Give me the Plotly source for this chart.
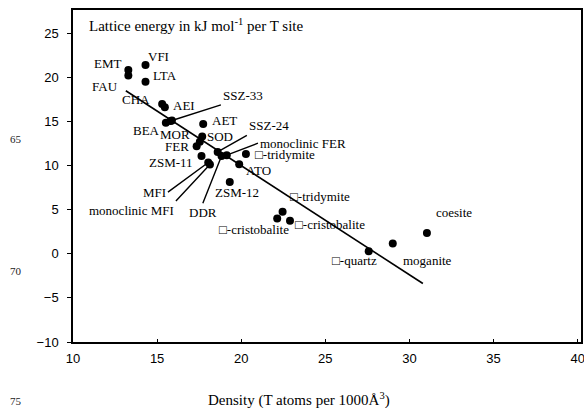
import plotly.graph_objects as go

# ---- data ----
labels = ["EMT", "FAU", "VFI", "LTA", "CHA", "AEI", "BEA", "MOR", "SSZ-33", "AET",
          "SOD", "", "FER", "ZSM-11", "MFI", "monoclinic MFI", "SSZ-24", "DDR",
          "monoclinic FER", "□-tridymite", "ATO", "ZSM-12", "□-tridymite ",
          "□-cristobalite", "□-cristobalite ", "□-quartz", "moganite", "coesite"]
density = [13.29, 13.29, 14.31, 14.31, 15.30, 15.46, 15.52, 15.80, 15.88, 17.74,
           17.68, 17.54, 17.35, 17.64, 18.04, 18.14, 18.60, 18.83,
           19.14, 20.28, 19.88, 19.32, 22.46,
           22.14, 22.90, 27.58, 29.01, 31.04]
energy = [20.84, 20.22, 21.41, 19.51, 16.98, 16.61, 14.86, 15.06, 15.12, 14.71,
          13.31, 12.70, 12.21, 11.08, 10.36, 10.14, 11.55, 11.10,
          11.19, 11.31, 10.17, 8.15, 4.76,
          4.01, 3.74, 0.30, 1.17, 2.37]
fit_x = [13.14, 30.80]
fit_y = [18.49, -3.37]
x_ticks = [10, 15, 20, 25, 30, 35, 40]
y_ticks = [-10, -5, 0, 5, 10, 15, 20, 25]
line_numbers = ["65", "70", "75"]

# ---- label placement (style, pixels) ----
plain_offsets = {
    "EMT": (-20.5, -6.7), "FAU": (-23.2, 10.5), "VFI": (13.3, -8.3), "LTA": (19, -6.7),
    "CHA": (-26.5, -4.7), "AEI": (19, -2.3), "BEA": (-19.7, 8), "MOR": (4.3, 13.6),
    "AET": (21.7, -3.3), "SOD": (17.4, 0.4), "FER": (-19.7, 0.7), "ZSM-11": (-30.7, 6.3),
    "□-tridymite": (39, 0.3), "ATO": (19.6, 6.7), "ZSM-12": (6.9, 11),
    "□-tridymite ": (37.3, -15), "□-cristobalite": (-22.8, 11),
    "□-cristobalite ": (40.5, 3.6), "□-quartz": (-14.5, 9), "moganite": (34.8, 16.7),
    "coesite": (27.5, -20),
}
arrow_labels = {
    "SSZ-33": (49, -15.6, "left", "bottom"),
    "SSZ-24": (29.2, -16.7, "left", "bottom"),
    "monoclinic FER": (31.2, -12, "left", "middle"),
    "MFI": (-40.3, 29.7, "right", "middle"),
    "monoclinic MFI": (-34, 36.7, "right", "top"),
    "DDR": (-18.7, 47.3, "center", "top"),
}

SERIF = "Liberation Serif"
SANS = "Liberation Sans"

fig = go.Figure()
fig.add_trace(go.Scatter(x=fit_x, y=fit_y, mode="lines",
                         line=dict(color="black", width=1.6), hoverinfo="skip"))
fig.add_trace(go.Scatter(x=density, y=energy, mode="markers",
                         marker=dict(color="black", size=8), text=labels))

annotations = []
for lab, xv, yv in zip(labels, density, energy):
    if lab in plain_offsets:
        dx, dy = plain_offsets[lab]
        annotations.append(dict(x=xv, y=yv, xref="x", yref="y", text=lab.strip(),
                                showarrow=False, xshift=dx, yshift=-dy,
                                xanchor="center", yanchor="middle",
                                font=dict(family=SERIF, size=13, color="black")))
    elif lab in arrow_labels:
        ax, ay, xa, ya = arrow_labels[lab]
        annotations.append(dict(x=xv, y=yv, xref="x", yref="y", text=lab,
                                showarrow=True, arrowhead=0, arrowwidth=1.4,
                                arrowcolor="black", ax=ax, ay=ay,
                                xanchor=xa, yanchor=ya, standoff=0,
                                font=dict(family=SERIF, size=13, color="black")))

annotations.append(dict(x=0.027, y=0.955, xref="paper", yref="paper",
                        text="Lattice energy in kJ mol<sup>-1</sup> per T site",
                        showarrow=False, xanchor="left", yanchor="middle",
                        font=dict(family=SERIF, size=15, color="black")))
annotations.append(dict(x=0.444, y=-0.172, xref="paper", yref="paper",
                        text="Density (T atoms per 1000Å<sup>3</sup>)",
                        showarrow=False, xanchor="center", yanchor="middle",
                        font=dict(family=SERIF, size=15, color="black")))
for txt, yp in zip(line_numbers, [0.610, 0.214, -0.178]):
    annotations.append(dict(x=-0.113, y=yp, xref="paper", yref="paper", text=txt,
                            showarrow=False, xanchor="center", yanchor="middle",
                            font=dict(family=SERIF, size=11, color="#222")))

fig.update_layout(
    width=584, height=408,
    margin=dict(l=73, r=3, t=10, b=66),
    paper_bgcolor="white", plot_bgcolor="white",
    showlegend=False, hovermode=False,
    annotations=annotations,
    xaxis=dict(range=[10, 40.2], tickvals=x_ticks, ticks="inside", ticklen=3,
               tickcolor="black", showline=True, linecolor="black", linewidth=1.5,
               mirror=True, showgrid=False, zeroline=False, automargin=False,
               tickfont=dict(family=SANS, size=13, color="black"),
               ticklabelstandoff=4, ticklabeloverflow="allow"),
    yaxis=dict(range=[-10, 27.65], tickvals=y_ticks, ticks="outside", ticklen=4,
               tickcolor="black", showline=True, linecolor="black", linewidth=1.5,
               mirror=True, showgrid=False, zeroline=False, automargin=False,
               tickfont=dict(family=SANS, size=13, color="black"),
               ticklabelstandoff=6, ticklabeloverflow="allow"),
)

fig.write_html("out.html", config={"displayModeBar": False},
               post_script="document.body.style.margin='0';document.body.style.padding='0';")
